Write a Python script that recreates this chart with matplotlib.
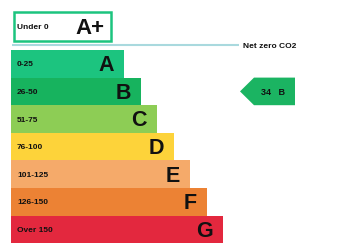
import matplotlib.pyplot as plt
from matplotlib.patches import Rectangle, Polygon

plt.rcParams['font.family'] = ['Liberation Sans', 'DejaVu Sans']

bands = ["A", "B", "C", "D", "E", "F", "G"]
ranges = ["0-25", "26-50", "51-75", "76-100", "101-125", "126-150", "Over 150"]
bar_ends = [124, 141, 157, 174, 190, 207, 223]
colors = ["#1cc47f", "#17b35e", "#8dcd55", "#fdd33a", "#f5aa6a", "#ec8234", "#e3283e"]

current_value = 34
current_band = "B"
current_color = "#1bb462"

fig = plt.figure(figsize=(3.64, 2.53), dpi=100)
ax = fig.add_axes([0, 0, 1, 1])
ax.set_xlim(0, 364)
ax.set_ylim(253, 0)
ax.axis("off")

# rating bands
x0 = 11
top = 51
h = 27.6
ys = [top + h * i + h / 2 for i in range(len(bands))]
ax.barh(ys, [e - x0 for e in bar_ends], left=x0, height=h, color=colors, linewidth=0)
for y, e, b, r in zip(ys, bar_ends, bands, ranges):
    ax.text(x0 + 6, y, r, fontsize=6, fontweight="bold", va="center", ha="left", color="#111111")
    ax.text(e - 10, y + 1, b, fontsize=15.5, fontweight="bold", va="center", ha="right", color="#111111")

# A+ box
ax.add_patch(Rectangle((13.5, 12.5), 97, 29, fill=False, ec="#1cc47f", lw=1.8))
ax.text(17, 27, "Under 0", fontsize=6, fontweight="bold", va="center", ha="left", color="#111111")
ax.text(104, 28, "A+", fontsize=16, fontweight="bold", va="center", ha="right", color="#111111")

# net zero line
ax.plot([12, 239], [45.5, 45.5], color="#a9d9de", lw=1.5, solid_capstyle="butt")
ax.text(243, 46, "Net zero CO2", fontsize=6, fontweight="bold", va="center", ha="left", color="#111111")

# current rating arrow
cy = ys[bands.index(current_band)]
ax.add_patch(Polygon([(240, cy), (254, cy - h / 2), (295, cy - h / 2), (295, cy + h / 2), (254, cy + h / 2)],
                     closed=True, color=current_color, lw=0))
ax.text(273, cy + 0.5, f"{current_value}   {current_band}", fontsize=6.5, fontweight="bold",
        va="center", ha="center", color="#111111")

fig.savefig("out.png", dpi=100)
